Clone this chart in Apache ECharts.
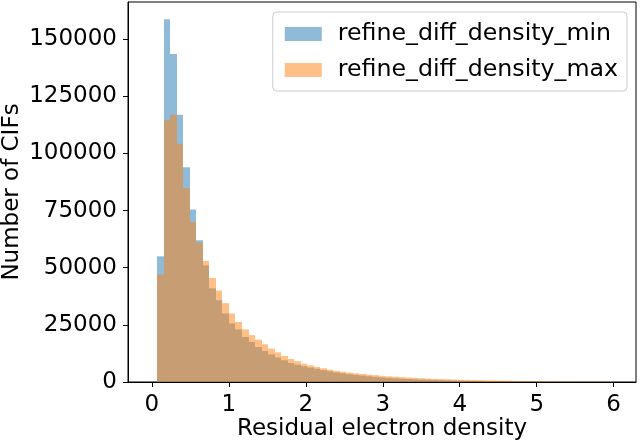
<!DOCTYPE html>
<html>
<head>
<meta charset="utf-8">
<script src="https://cdn.jsdelivr.net/npm/echarts@6/dist/echarts.min.js"></script>
<style>html,body{margin:0;padding:0;background:#fff}#c{width:640px;height:445px}</style>
</head>
<body>
<div id="c"></div>
<script>
// Histogram bins: 70 bins spanning the data range
const binStart = 0.07;
const binEnd = 6.0;
const binCount = 70;

// refine_diff_density_min counts per bin
const countsMin = [
  55000, 158700, 143500, 117000, 94000, 75500, 62000, 51000, 41000, 35800,
  30000, 25600, 23000, 19700, 17500, 15300, 13600, 12100, 10700, 9500,
  8300, 7600, 6900, 6300, 5800, 5200, 4700, 4200, 3800, 3400,
  3100, 2800, 2500, 2250, 2000, 1800, 1600, 1450, 1300, 1150,
  1050, 950, 850, 750, 680, 600, 540, 480, 430, 380,
  340, 300, 270, 240, 210, 190, 170, 150, 130, 120,
  110, 100, 90, 80, 70, 60, 55, 50, 45, 40
];
// refine_diff_density_max counts per bin
const countsMax = [
  47000, 114500, 117000, 104300, 84800, 70000, 61000, 53000, 45500, 40000,
  34500, 30000, 26300, 23000, 20500, 18500, 16500, 14600, 13000, 11400,
  10100, 9100, 8000, 7300, 6600, 6000, 5400, 4900, 4500, 4100,
  3800, 3500, 3200, 3000, 2700, 2500, 2300, 2100, 1950, 1800,
  1650, 1500, 1400, 1300, 1200, 1100, 1000, 900, 850, 800,
  700, 650, 600, 550, 500, 450, 420, 390, 360, 330,
  300, 280, 260, 240, 220, 200, 190, 180, 170, 160
];

const seriesNames = ['refine_diff_density_min', 'refine_diff_density_max'];
const xTicks = [0, 1, 2, 3, 4, 5, 6];
const yTicks = [0, 25000, 50000, 75000, 100000, 125000, 150000];
const xLabel = 'Residual electron density';
const yLabel = 'Number of CIFs';

function toBins(counts) {
  const w = (binEnd - binStart) / binCount;
  return counts.map((v, i) => [binStart + i * w, binStart + (i + 1) * w, v]);
}

function renderBar(params, api) {
  const p0 = api.coord([api.value(0), api.value(2)]);
  const p1 = api.coord([api.value(1), 0]);
  const x0 = Math.round(p0[0]);
  const x1 = Math.round(p1[0]);
  return {
    type: 'rect',
    shape: { x: x0, y: p0[1], width: x1 - x0, height: p1[1] - p0[1] },
    style: { fill: api.visual('color') }
  };
}

const font = 'DejaVu Sans';
const fs = 23;
const chart = echarts.init(document.getElementById('c'), null, { renderer: 'canvas' });
chart.setOption({
  animation: false,
  backgroundColor: '#fff',
  textStyle: { fontFamily: font },
  grid: { left: 128, right: 4, top: 2, bottom: 63, outerBoundsMode: 'none', containLabel: false, show: true, borderColor: '#000', borderWidth: 1, backgroundColor: 'transparent' },
  legend: {
    orient: 'vertical',
    right: 13,
    top: 12,
    itemWidth: 37,
    itemHeight: 14,
    itemGap: 12,
    padding: [10, 9, 9, 12],
    borderColor: '#cccccc',
    borderWidth: 1,
    borderRadius: 4,
    backgroundColor: 'rgba(255,255,255,0.8)',
    icon: 'rect',
    textStyle: { fontFamily: font, fontSize: 23.7, color: '#000', padding: [0, 0, 0, 11] },
    data: seriesNames
  },
  xAxis: {
    type: 'value',
    min: -0.31,
    max: 6.29,
    splitLine: { show: false },
    axisLine: { show: true, onZero: false, lineStyle: { color: '#000', width: 1 } },
    axisTick: { show: true, inside: false, length: 5, lineStyle: { color: '#000' }, customValues: xTicks },
    axisLabel: { color: '#000', fontSize: fs, fontFamily: font, margin: 12, customValues: xTicks, formatter: v => String(v) },
    name: xLabel,
    nameLocation: 'middle',
    nameGap: 36,
    nameMoveOverlap: false,
    nameTextStyle: { color: '#000', fontSize: fs, fontFamily: font }
  },
  yAxis: {
    type: 'value',
    min: 0,
    max: 166300,
    splitLine: { show: false },
    axisLine: { show: true, onZero: false, lineStyle: { color: '#000', width: 1 } },
    axisTick: { show: true, inside: false, length: 5, lineStyle: { color: '#000' }, customValues: yTicks },
    axisLabel: { color: '#000', fontSize: fs, fontFamily: font, margin: 11, customValues: yTicks, formatter: v => String(v) },
    name: yLabel,
    nameLocation: 'middle',
    nameGap: 104,
    nameMoveOverlap: false,
    nameTextStyle: { color: '#000', fontSize: fs, fontFamily: font }
  },
  series: [
    {
      name: seriesNames[0],
      type: 'custom',
      renderItem: renderBar,
      itemStyle: { color: 'rgba(31,119,180,0.5)' },
      encode: { x: [0, 1], y: 2 },
      data: toBins(countsMin)
    },
    {
      name: seriesNames[1],
      type: 'custom',
      renderItem: renderBar,
      itemStyle: { color: 'rgba(255,127,14,0.5)' },
      encode: { x: [0, 1], y: 2 },
      data: toBins(countsMax)
    }
  ]
});
</script>
</body>
</html>
